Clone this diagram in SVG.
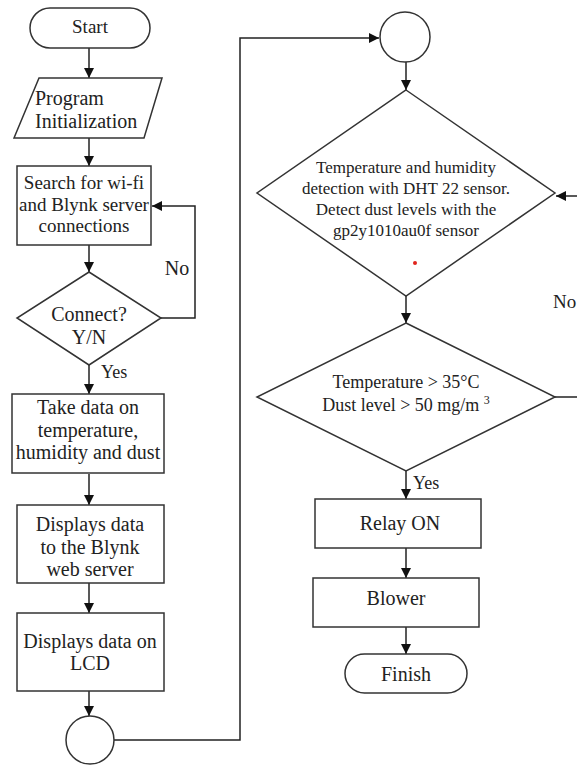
<svg xmlns="http://www.w3.org/2000/svg" width="577" height="765" viewBox="0 0 577 765">
<style>
.s{fill:#fff;stroke:#333;stroke-width:1.5}
.c{fill:none;stroke:#222;stroke-width:1.5}
text{font-family:"Liberation Serif","Times New Roman",serif;font-size:18px;fill:#222}
.m{text-anchor:middle}
.f17{font-size:17px}
.f19{font-size:19px}
.f20{font-size:20px}
</style>
<defs>
<marker id="ah" markerUnits="userSpaceOnUse" markerWidth="10" markerHeight="10" viewBox="0 0 10 10" refX="10" refY="5" orient="auto">
<path d="M0,0 L10,5 L0,10 Z" fill="#111"/>
</marker>
</defs>
<rect width="577" height="765" fill="#fff"/>
<g id="connectors">
<line class="c" x1="89" y1="48" x2="89" y2="78" marker-end="url(#ah)"/>
<line class="c" x1="89" y1="138" x2="89" y2="166" marker-end="url(#ah)"/>
<line class="c" x1="89" y1="245" x2="89" y2="272" marker-end="url(#ah)"/>
<polyline class="c" points="161,318 195,318 195,206 152,206" marker-end="url(#ah)"/>
<line class="c" x1="89" y1="365" x2="89" y2="394" marker-end="url(#ah)"/>
<line class="c" x1="89" y1="474" x2="89" y2="505" marker-end="url(#ah)"/>
<line class="c" x1="89" y1="583" x2="89" y2="613" marker-end="url(#ah)"/>
<line class="c" x1="89" y1="691" x2="89" y2="716" marker-end="url(#ah)"/>
<polyline class="c" points="114,740 240,740 240,38 379,38" marker-end="url(#ah)"/>
<line class="c" x1="406" y1="62" x2="406" y2="90" marker-end="url(#ah)"/>
<line class="c" x1="578" y1="196" x2="556" y2="196" marker-end="url(#ah)"/>
<line class="c" x1="406" y1="296" x2="406" y2="323" marker-end="url(#ah)"/>
<line class="c" x1="555" y1="397" x2="578" y2="397"/>
<line class="c" x1="406" y1="471" x2="406" y2="499" marker-end="url(#ah)"/>
<line class="c" x1="406" y1="548" x2="406" y2="578" marker-end="url(#ah)"/>
<line class="c" x1="406" y1="627" x2="406" y2="654" marker-end="url(#ah)"/>
<text x="177" y="275" class="m f20">No</text>
<text x="101" y="378">Yes</text>
<text x="553" y="308" class="f19">No</text>
<text x="413" y="489">Yes</text>
</g>
<g id="start">
<rect class="s" x="30" y="8" width="120" height="40" rx="20"/>
<text x="90" y="33" class="m f19">Start</text>
</g>
<g id="init">
<polygon class="s" points="39,78 162,78 144,138 14,138"/>
<text x="35" y="105" class="f20">Program</text>
<text x="35" y="128" class="f20">Initialization</text>
</g>
<g id="search">
<rect class="s" x="17" y="166" width="134" height="79"/>
<text x="84" y="189" class="m f19">Search for wi-fi</text>
<text x="84" y="211" class="m f19">and Blynk server</text>
<text x="84" y="232" class="m f19">connections</text>
</g>
<g id="connect">
<polygon class="s" points="89,272 161,318 89,365 17,318"/>
<text x="89" y="321" class="m f20">Connect?</text>
<text x="89" y="344" class="m f20">Y/N</text>
</g>
<g id="takedata">
<rect class="s" x="12" y="394" width="152" height="79"/>
<text x="88" y="414" class="m f20">Take data on</text>
<text x="88" y="437" class="m f20">temperature,</text>
<text x="88" y="459" class="m f20">humidity and dust</text>
</g>
<g id="blynk">
<rect class="s" x="17" y="505" width="147" height="78"/>
<text x="90" y="531" class="m f20">Displays data</text>
<text x="90" y="554" class="m f20">to the Blynk</text>
<text x="90" y="576" class="m f20">web server</text>
</g>
<g id="lcd">
<rect class="s" x="17" y="613" width="147" height="78"/>
<text x="90" y="648" class="m f20">Displays data on</text>
<text x="90" y="670" class="m f20">LCD</text>
</g>
<g id="conn-a">
<circle class="s" cx="90" cy="740" r="24"/>
</g>
<g id="conn-b">
<circle class="s" cx="405" cy="37" r="25"/>
</g>
<g id="detect">
<polygon class="s" points="406,90 555,193 406,296 257,193"/>
<text x="406" y="173" class="m f17">Temperature and humidity</text>
<text x="406" y="194" class="m f17">detection with DHT 22 sensor.</text>
<text x="406" y="215" class="m f17">Detect dust levels with the</text>
<text x="406" y="236" class="m f17">gp2y1010au0f sensor</text>
<circle cx="415" cy="263" r="2" fill="#e0241c"/>
</g>
<g id="check">
<polygon class="s" points="406,323 555,397 406,471 257,397"/>
<text x="406" y="388" class="m">Temperature &gt; 35°C</text>
<text x="406" y="411" class="m">Dust level &gt; 50 mg/m <tspan dy="-7" font-size="12">3</tspan></text>
</g>
<g id="relay">
<rect class="s" x="315" y="499" width="166" height="49"/>
<text x="400" y="530" class="m f20">Relay ON</text>
</g>
<g id="blower">
<rect class="s" x="313" y="578" width="166" height="49"/>
<text x="396" y="605" class="m f20">Blower</text>
</g>
<g id="finish">
<rect class="s" x="345" y="654" width="122" height="39" rx="19.5"/>
<text x="406" y="681" class="m f20">Finish</text>
</g>
</svg>
